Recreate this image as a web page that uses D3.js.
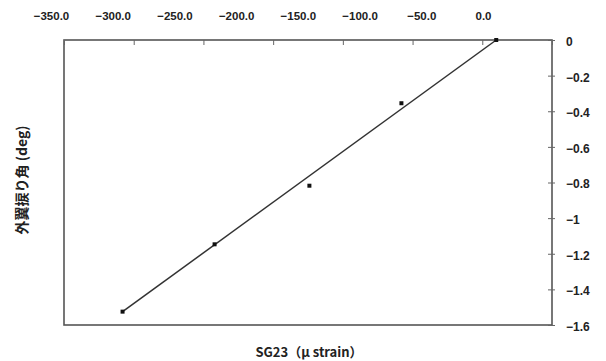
<!DOCTYPE html>
<html>
<head>
<meta charset="utf-8">
<script src="https://cdn.jsdelivr.net/npm/d3@7"></script>
<style>
  body { margin: 0; background: #fff; }
  text { font-family: "Liberation Sans", Arial, sans-serif; fill: #222; }
</style>
</head>
<body>
<div id="chart"></div>
<script>
// strain readings (x) and outer wing twist angle (y)
const strain = [-308, -242, -174, -108, -40];
const twist = [-1.525, -1.147, -0.818, -0.355, 0];

const xTicks = [-350, -300, -250, -200, -150, -100, -50, 0];
const yTicks = [0, -0.2, -0.4, -0.6, -0.8, -1, -1.2, -1.4, -1.6];

const width = 606, height = 361;
const plotL = 64, plotR = 552, plotT = 40, plotB = 325;

const svg = d3.select("#chart").append("svg")
    .attr("width", width)
    .attr("height", height);

const x = d3.scaleLinear().domain([-350, 0]).range([plotL, plotR]);
const y = d3.scaleLinear().domain([-1.6, 0]).range([plotB, plotT]);
// the printed top labels sit on a narrower spacing than the tick marks
const xLabel = d3.scaleLinear().domain([-350, 0]).range([51, 483]);

// frame
svg.append("rect")
    .attr("x", plotL).attr("y", plotT)
    .attr("width", plotR - plotL).attr("height", plotB - plotT)
    .attr("fill", "none")
    .attr("stroke", "#555")
    .attr("stroke-width", 1.6);

// top axis: tick marks
const xAxis = svg.append("g")
    .attr("transform", `translate(0,${plotT})`)
    .call(d3.axisTop(x).tickValues(xTicks).tickSize(-5).tickFormat(""));
xAxis.select(".domain").remove();
xAxis.selectAll("line").attr("stroke", "#666");

// top axis: labels
const xLab = svg.append("g")
    .attr("transform", `translate(0,${plotT})`)
    .call(d3.axisTop(xLabel).tickValues(xTicks).tickSize(0).tickPadding(20)
        .tickFormat(d3.format(".1f")));
xLab.select(".domain").remove();
xLab.selectAll("line").remove();
xLab.selectAll("text")
    .style("font-size", "11.5px")
    .style("font-weight", "bold")
    .attr("fill", "#333");

// right axis
const yAxis = svg.append("g")
    .attr("transform", `translate(${plotR},0)`)
    .call(d3.axisRight(y).tickValues(yTicks).tickSize(-4).tickPadding(14)
        .tickFormat(d3.format("")));
yAxis.select(".domain").remove();
yAxis.selectAll("line").attr("x1", 3).attr("stroke", "#666");
yAxis.selectAll("text")
    .attr("dy", "0.45em")
    .style("font-size", "12px")
    .style("font-weight", "bold")
    .attr("fill", "#333");

// fit line through the end readings
const fit = [0, strain.length - 1];
svg.append("path")
    .datum(fit)
    .attr("fill", "none")
    .attr("stroke", "#333")
    .attr("stroke-width", 1.5)
    .attr("d", d3.line().x(i => x(strain[i])).y(i => y(twist[i])));

// markers
svg.append("g").selectAll("rect")
    .data(strain)
    .join("rect")
    .attr("x", (d, i) => x(d) - 2)
    .attr("y", (d, i) => y(twist[i]) - 2)
    .attr("width", 4).attr("height", 4)
    .attr("fill", "#111");

// axis titles
svg.append("text")
    .attr("transform", "translate(22,180) rotate(-90)")
    .attr("text-anchor", "middle")
    .attr("dy", "0.35em")
    .style("font-size", "14px")
    .style("font-weight", "bold")
    .style("font-family", "'Noto Sans CJK JP', sans-serif")
    .attr("fill", "#333")
    .text("外翼捩り角 (deg)");

svg.append("text")
    .attr("x", 309).attr("y", 357)
    .attr("text-anchor", "middle")
    .style("font-size", "13px")
    .style("font-weight", "bold")
    .style("font-family", "'Noto Sans CJK JP', sans-serif")
    .attr("fill", "#333")
    .text("SG23（μ strain）");
</script>
</body>
</html>
